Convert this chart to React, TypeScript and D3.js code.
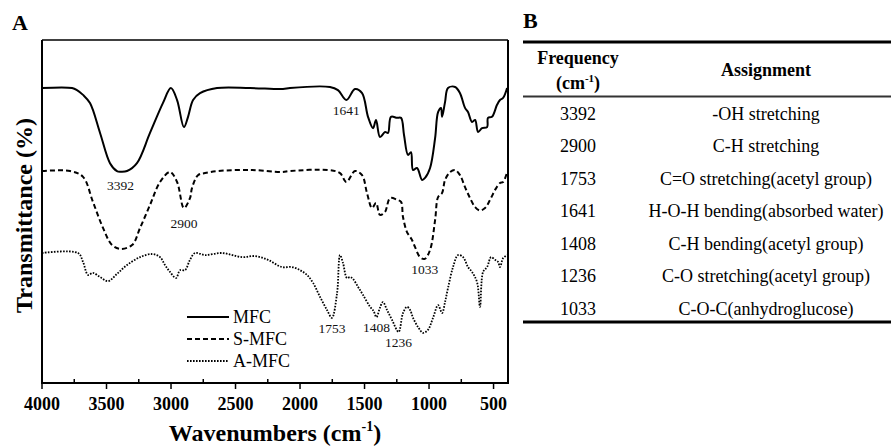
import React from "react";
import * as d3 from "d3";

// FTIR spectra: [wavenumber (cm-1), transmittance (%) incl. vertical offset]
const mfc: [number, number][] = [
  [4000, 86.0], [3767, 86.0], [3729, 85.4], [3682, 84.0], [3628, 81.6], [3550, 72.9],
  [3473, 64.1], [3419, 61.8], [3392, 61.6], [3341, 61.8], [3264, 64.1], [3163, 72.9],
  [3063, 81.6], [3001, 86.0], [2953, 82.5], [2900, 74.6], [2868, 77.6], [2829, 82.5],
  [2775, 84.5], [2643, 86.0], [2388, 86.0], [2132, 85.7], [2078, 86.0], [1768, 86.3],
  [1706, 85.4], [1641, 82.5], [1574, 85.7], [1519, 84.5], [1473, 77.6], [1434, 74.3],
  [1411, 76.7], [1380, 71.7], [1341, 73.2], [1318, 72.9], [1295, 77.6], [1248, 77.3],
  [1217, 77.3], [1194, 72.3], [1163, 66.5], [1140, 67.3], [1124, 62.1], [1093, 62.7],
  [1054, 59.2], [1031, 59.8], [992, 62.7], [953, 71.4], [930, 79.0], [907, 80.2],
  [899, 77.6], [876, 81.9], [853, 86.0], [798, 86.3], [760, 84.5], [721, 80.2],
  [698, 79.0], [667, 76.1], [643, 76.7], [620, 73.2], [589, 74.3], [550, 74.6],
  [543, 77.3], [512, 77.6], [473, 81.1], [450, 82.5], [426, 83.1], [395, 86.0],
];

const sMfc: [number, number][] = [
  [4000, 61.8], [3783, 61.8], [3682, 60.1], [3605, 52.8], [3527, 45.2], [3457, 40.2],
  [3392, 39.1], [3302, 40.2], [3240, 45.2], [3163, 51.9], [3085, 58.6], [3008, 61.5],
  [2953, 58.6], [2900, 51.0], [2853, 53.9], [2837, 56.9], [2791, 60.6], [2736, 61.2],
  [2636, 61.8], [2372, 62.1], [2140, 61.5], [2078, 61.8], [1783, 62.1], [1690, 61.2],
  [1641, 58.6], [1574, 61.8], [1519, 60.6], [1481, 55.4], [1442, 51.0], [1411, 52.5],
  [1380, 49.0], [1341, 49.9], [1302, 53.9], [1248, 53.4], [1217, 52.8], [1202, 48.4],
  [1171, 44.0], [1147, 42.6], [1132, 41.7], [1109, 39.7], [1070, 36.7], [1033, 36.2],
  [992, 38.8], [953, 47.5], [930, 54.2], [899, 55.4], [876, 59.2], [837, 61.5],
  [798, 62.1], [760, 60.6], [721, 57.1], [682, 53.9], [643, 51.3], [605, 50.3],
  [566, 51.0], [527, 53.4], [488, 56.3], [450, 58.3], [426, 58.6], [395, 61.5],
];

const aMfc: [number, number][] = [
  [4000, 37.9], [3721, 37.9], [3682, 35.3], [3643, 31.5], [3605, 32.1], [3550, 30.9],
  [3488, 29.7], [3419, 31.8], [3341, 34.4], [3240, 36.7], [3147, 37.6], [3085, 36.7],
  [3047, 34.4], [3008, 32.4], [2961, 30.6], [2930, 32.9], [2891, 32.9], [2853, 35.9],
  [2814, 37.9], [2736, 37.3], [2605, 37.9], [2450, 36.7], [2349, 37.0], [2248, 35.9],
  [2140, 33.8], [2062, 33.8], [2000, 32.9], [1946, 31.5], [1899, 29.2], [1845, 25.1],
  [1791, 21.3], [1753, 19.0], [1713, 26.2], [1690, 37.3], [1667, 35.0], [1636, 30.6],
  [1612, 30.9], [1589, 30.3], [1550, 28.0], [1512, 25.7], [1457, 22.2], [1430, 21.0],
  [1408, 19.2], [1380, 22.0], [1357, 23.6], [1326, 21.3], [1287, 18.4], [1236, 14.9],
  [1202, 20.4], [1171, 22.2], [1147, 21.3], [1124, 19.0], [1085, 16.3], [1046, 14.6],
  [1008, 15.5], [969, 19.0], [930, 22.7], [899, 20.4], [876, 23.6], [853, 27.7],
  [814, 33.8], [775, 37.3], [736, 36.7], [698, 33.8], [667, 32.4], [628, 29.4],
  [605, 22.2], [581, 32.4], [550, 33.8], [519, 36.7], [488, 35.9], [465, 35.3],
  [450, 33.8], [426, 36.4], [395, 37.3],
];

const seriesNames = ["MFC", "S-MFC", "A-MFC"];

// Band annotations: wavenumber and the transmittance level of the label baseline
const peakWavenumbers = [3392, 2900, 1641, 1033, 1753, 1408, 1236];
const peakLabelLevels = [56.3, 45.2, 78.1, 31.8, 14.6, 14.9, 10.5];

const majorTicks = [4000, 3500, 3000, 2500, 2000, 1500, 1000, 500];
const minorTicks = [3750, 3250, 2750, 2250, 1750, 1250, 750];

// Band assignment table
const frequencies = ["3392", "2900", "1753", "1641", "1408", "1236", "1033"];
const assignments = [
  "-OH stretching",
  "C-H stretching",
  "C=O stretching(acetyl group)",
  "H-O-H bending(absorbed water)",
  "C-H bending(acetyl group)",
  "C-O stretching(acetyl group)",
  "C-O-C(anhydroglucose)",
];

const W = 891;
const H = 446;
const FONT = "'Liberation Serif', 'Times New Roman', serif";

const plot = { left: 42, right: 508, top: 40, bottom: 383 };

export default function App() {
  const x = d3.scaleLinear().domain([4000, 388]).range([plot.left, plot.right]);
  const y = d3.scaleLinear().domain([0, 100]).range([plot.bottom, plot.top]);

  const line = d3
    .line<[number, number]>()
    .x((d) => x(d[0]))
    .y((d) => y(d[1]))
    .curve(d3.curveCatmullRom.alpha(0.5));

  const series = [
    { name: seriesNames[0], data: mfc, dash: "none", width: 2 },
    { name: seriesNames[1], data: sMfc, dash: "5,3", width: 2 },
    { name: seriesNames[2], data: aMfc, dash: "1.6,1.4", width: 1.8 },
  ];

  const tableLeft = 523;
  const tableRight = 891;
  const colFreq = 578;
  const colAssign = 766;
  const rowY = d3.scaleLinear().domain([0, 6]).range([120, 314.5]);

  return (
    <svg
      width={W}
      height={H}
      viewBox={`0 0 ${W} ${H}`}
      style={{ position: "absolute", left: 0, top: 0, background: "#fff" }}
      fontFamily={FONT}
    >
      <rect x={0} y={0} width={W} height={H} fill="#fff" />

      {/* Panel A */}
      <text x={12} y={30} fontSize={22} fontWeight="bold">A</text>

      <clipPath id="plotClip">
        <rect x={plot.left} y={plot.top} width={plot.right - plot.left} height={plot.bottom - plot.top} />
      </clipPath>

      <g clipPath="url(#plotClip)">
        {series.map((s) => (
          <path
            key={s.name}
            d={line(s.data) || ""}
            fill="none"
            stroke="#000"
            strokeWidth={s.width}
            strokeDasharray={s.dash}
            strokeLinejoin="round"
          />
        ))}
      </g>

      {/* Frame */}
      <line x1={plot.left} x2={plot.right} y1={plot.top} y2={plot.top} stroke="#000" strokeWidth={1.5} />
      <line x1={plot.right} x2={plot.right} y1={plot.top} y2={plot.bottom} stroke="#000" strokeWidth={2} />
      <line x1={plot.left} x2={plot.left} y1={plot.top} y2={plot.bottom + 1} stroke="#000" strokeWidth={2} />
      <line x1={plot.left - 1} x2={plot.right + 1} y1={plot.bottom} y2={plot.bottom} stroke="#000" strokeWidth={2} />

      {/* X ticks */}
      {majorTicks.map((t) => (
        <g key={t}>
          <line x1={x(t)} x2={x(t)} y1={plot.bottom} y2={plot.bottom + 6} stroke="#000" strokeWidth={1.5} />
          <text x={x(t)} y={410} fontSize={18} fontWeight="bold" textAnchor="middle">
            {t}
          </text>
        </g>
      ))}
      {minorTicks.map((t) => (
        <line key={t} x1={x(t)} x2={x(t)} y1={plot.bottom} y2={plot.bottom - 4} stroke="#000" strokeWidth={1.5} />
      ))}

      {/* Axis titles */}
      <text x={(plot.left + plot.right) / 2} y={441} fontSize={24} fontWeight="bold" textAnchor="middle">
        Wavenumbers (cm<tspan fontSize={14} dy={-10}>-1</tspan><tspan dy={10}>)</tspan>
      </text>
      <text
        transform={`translate(32, ${(plot.top + plot.bottom) / 2 + 4}) rotate(-90)`}
        fontSize={24}
        fontWeight="bold"
        textAnchor="middle"
      >
        Transmittance (%)
      </text>

      {/* Band labels */}
      {peakWavenumbers.map((w, i) => (
        <text key={w} x={x(w)} y={y(peakLabelLevels[i])} fontSize={13.5} textAnchor="middle" fill="#111">
          {w}
        </text>
      ))}

      {/* Legend */}
      {series.map((s, i) => (
        <g key={s.name} transform={`translate(187, ${317 + i * 22})`}>
          <line x1={0} x2={42} y1={0} y2={0} stroke="#000" strokeWidth={s.width} strokeDasharray={s.dash} />
          <text x={46} y={6} fontSize={18}>{s.name}</text>
        </g>
      ))}

      {/* Panel B: table */}
      <text x={523} y={28} fontSize={22} fontWeight="bold">B</text>
      <line x1={tableLeft} x2={tableRight} y1={42} y2={42} stroke="#000" strokeWidth={3} />
      <text x={colFreq} y={64} fontSize={18} fontWeight="bold" textAnchor="middle">Frequency</text>
      <text x={colFreq} y={89} fontSize={18} fontWeight="bold" textAnchor="middle">
        (cm<tspan fontSize={11} dy={-7}>-1</tspan><tspan dy={7}>)</tspan>
      </text>
      <text x={colAssign} y={76} fontSize={18} fontWeight="bold" textAnchor="middle">Assignment</text>
      <line x1={tableLeft} x2={tableRight} y1={96.5} y2={96.5} stroke="#333" strokeWidth={1.8} />
      {frequencies.map((f, i) => (
        <g key={f}>
          <text x={colFreq} y={rowY(i)} fontSize={18} textAnchor="middle">{f}</text>
          <text x={colAssign} y={rowY(i)} fontSize={18} textAnchor="middle">{assignments[i]}</text>
        </g>
      ))}
      <line x1={tableLeft} x2={tableRight} y1={322} y2={322} stroke="#000" strokeWidth={3} />
    </svg>
  );
}
